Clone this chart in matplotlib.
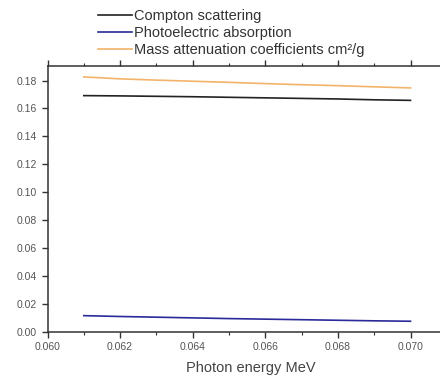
import matplotlib.pyplot as plt
from matplotlib.ticker import MultipleLocator, FormatStrFormatter

plt.rcParams['font.family'] = ['Liberation Sans', 'DejaVu Sans']

energy = [0.061, 0.062, 0.063, 0.064, 0.065, 0.066, 0.067, 0.068, 0.069, 0.070]
compton = [0.1692, 0.1690, 0.1687, 0.1684, 0.1680, 0.1676, 0.1672, 0.1668, 0.1662, 0.1658]
photo = [0.0117, 0.0111, 0.0106, 0.0101, 0.0096, 0.0092, 0.0088, 0.0084, 0.0080, 0.0077]
mass_att = [0.1826, 0.1812, 0.1803, 0.1795, 0.1787, 0.1778, 0.1770, 0.1763, 0.1755, 0.1747]

fig = plt.figure(figsize=(4.4, 3.78), dpi=100)
ax = fig.add_axes([0.108, 0.1217, 0.924, 0.7037])

l1, = ax.plot(energy, compton, color='#222222', lw=1.2, label='Compton scattering')
l2, = ax.plot(energy, photo, color='#2a2a9a', lw=1.2, label='Photoelectric absorption')
l3, = ax.plot(energy, mass_att, color='#f2b46a', lw=1.2, label='Mass attenuation coefficients cm\u00b2/g')

ax.set_xlim(0.060, 0.0712)
ax.set_ylim(0.0, 0.1904)
ax.xaxis.set_major_locator(MultipleLocator(0.002))
ax.xaxis.set_minor_locator(MultipleLocator(0.001))
ax.yaxis.set_major_locator(MultipleLocator(0.02))
ax.xaxis.set_major_formatter(FormatStrFormatter('%.3f'))
ax.yaxis.set_major_formatter(FormatStrFormatter('%.2f'))
ax.tick_params(axis='both', which='major', direction='out', length=4, width=1,
               labelsize=7.5, labelcolor='#555555', color='#333333', top=True)
ax.tick_params(axis='x', which='minor', direction='out', length=2.5, width=0.8,
               color='#333333', top=True)
for s in ax.spines.values():
    s.set_color('#333333')
    s.set_linewidth(1.1)

ax.set_xlabel('Photon energy MeV', fontsize=10.5, color='#444444', labelpad=6)

fig.legend(handles=[l1, l2, l3], loc='upper left', bbox_to_anchor=(98 / 440, 1 - 9 / 378),
           frameon=False, fontsize=10.5, handlelength=2.3, handletextpad=0.2,
           labelspacing=0.2, borderpad=0, borderaxespad=0, labelcolor='#333333')

fig.savefig('out.png', dpi=100)
